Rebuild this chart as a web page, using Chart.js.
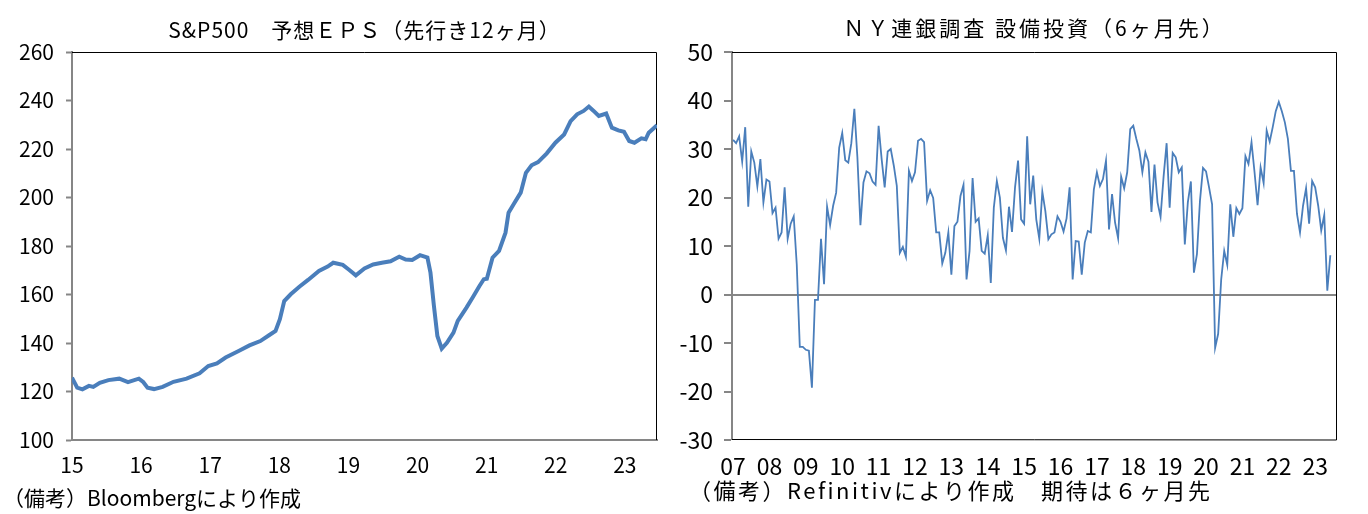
<!DOCTYPE html>
<html lang="ja">
<head>
<meta charset="utf-8">
<title>S&P500 予想EPS / NY連銀調査 設備投資</title>
<script src="https://cdn.jsdelivr.net/npm/chart.js@4.4.1/dist/chart.umd.min.js"></script>
<style>
  html, body { margin: 0; padding: 0; background: #fff; }
  #wrap { position: relative; width: 1368px; height: 514px; overflow: hidden; }
  canvas { position: absolute; top: 0; }
  #epsChart { left: 0; }
  #capexChart { left: 680px; }
</style>
</head>
<body>
<div id="wrap">
  <canvas id="epsChart" width="680" height="514"></canvas>
  <canvas id="capexChart" width="688" height="514"></canvas>
</div>
<script>
// 左：S&P500 予想EPS（先行き12ヶ月）  日付は年の小数表記
const epsDates = [
  2015.000, 2015.075, 2015.151, 2015.245, 2015.308, 2015.402, 2015.527, 2015.684, 2015.810, 2015.967,
  2016.030, 2016.093, 2016.187, 2016.312, 2016.469, 2016.658, 2016.846, 2016.972,
  2017.097, 2017.223, 2017.411, 2017.568, 2017.725, 2017.851, 2017.945,
  2018.008, 2018.071, 2018.165, 2018.290, 2018.416, 2018.573, 2018.699, 2018.780, 2018.918,
  2019.013, 2019.107, 2019.232, 2019.358, 2019.484, 2019.609, 2019.735, 2019.829, 2019.923,
  2020.036, 2020.143, 2020.187, 2020.237, 2020.287, 2020.350, 2020.425, 2020.520, 2020.582,
  2020.708, 2020.802, 2020.896, 2020.959,
  2021.003, 2021.085, 2021.179, 2021.273, 2021.317, 2021.399, 2021.493, 2021.568, 2021.650,
  2021.744, 2021.870, 2021.995,
  2022.121, 2022.215, 2022.309, 2022.403, 2022.479, 2022.548, 2022.623, 2022.730, 2022.812,
  2022.906, 2022.987,
  2023.063, 2023.138, 2023.239, 2023.301, 2023.345, 2023.465
];
const epsValues = [
  125.7, 121.6, 120.9, 122.3, 121.9, 123.6, 124.7, 125.3, 123.9, 125.3,
  123.9, 121.6, 121.0, 121.9, 124.0, 125.3, 127.5, 130.5,
  131.6, 134.0, 136.7, 139.0, 140.8, 143.2, 145.0,
  149.8, 157.3, 160.1, 163.2, 166.0, 169.7, 171.5, 173.1, 172.2,
  170.1, 167.9, 170.7, 172.4, 173.1, 173.7, 175.6, 174.4, 174.2,
  176.2, 175.2, 169.0, 155.3, 142.9, 137.7, 140.1, 144.3, 149.1,
  154.6, 159.0, 163.5, 166.3,
  166.5, 175.2, 178.0, 185.5, 193.7, 197.6, 202.0, 210.2, 213.3,
  214.6, 218.2, 222.6,
  226.0, 231.5, 234.3, 235.7, 237.5, 235.7, 233.6, 234.6, 228.8,
  227.7, 227.1,
  223.3, 222.6, 224.4, 224.0, 226.7, 229.8
];
const epsYearTicks = [2015, 2016, 2017, 2018, 2019, 2020, 2021, 2022, 2023];
const epsYearLabels = ["15", "16", "17", "18", "19", "20", "21", "22", "23"];

// 右：NY連銀調査 設備投資（6ヶ月先）  2007年1月からの月次
const capexStart = 2007;
const capexValues = [
  31.9, 31.2, 32.6, 27.4, 34.5, 18.1, 29.5, 27.2, 22.3, 27.9, 19.0, 23.7,   // 07
  23.3, 16.8, 17.9, 11.5, 12.8, 22.1, 11.5, 14.6, 16.1, 6.2, -10.8, -10.8,  // 08
  -11.4, -11.6, -19.2, -1.1, -1.1, 11.5, 2.1, 18.1, 14.3, 18.3, 21.0, 30.3, // 09
  33.3, 27.7, 27.2, 31.2, 38.3, 28.3, 14.3, 23.1, 25.4, 25.0, 23.3, 22.6,   // 10
  34.8, 27.9, 22.1, 29.5, 30.0, 26.6, 22.4, 8.6, 9.8, 7.8, 25.5, 23.4,      // 11
  25.2, 31.7, 32.1, 31.4, 19.3, 21.5, 19.9, 12.8, 12.8, 6.4, 8.6, 12.8,     // 12
  4.1, 14.1, 15.0, 20.3, 22.6, 3.1, 9.0, 24.0, 15.0, 15.7, 9.0, 8.4,        // 13
  12.2, 2.4, 17.9, 23.4, 20.0, 11.7, 9.1, 18.1, 12.9, 22.1, 27.6, 15.5,     // 14
  14.6, 32.6, 18.6, 24.5, 15.5, 11.5, 21.2, 17.2, 11.4, 12.4, 12.8, 16.1,   // 15
  15.0, 13.0, 15.7, 22.1, 3.1, 11.0, 10.9, 4.1, 10.7, 13.1, 12.8, 21.7,     // 16
  25.2, 22.4, 23.8, 27.6, 13.4, 20.7, 14.8, 11.6, 24.3, 21.9, 25.2, 34.1,   // 17
  34.8, 32.1, 29.7, 25.2, 29.3, 27.4, 17.0, 26.8, 19.0, 16.0, 24.3, 31.2,   // 18
  17.9, 29.2, 28.3, 25.2, 26.2, 10.3, 19.0, 23.3, 4.5, 8.3, 19.3, 26.1,     // 19
  25.4, 22.1, 18.6, -11.0, -8.1, 3.1, 9.0, 6.1, 18.6, 11.9, 17.8, 16.6,     // 20
  17.8, 28.5, 26.9, 31.4, 25.2, 18.4, 26.2, 23.0, 33.8, 31.5, 34.5, 37.8,   // 21
  39.7, 37.8, 35.5, 32.1, 25.5, 25.5, 16.6, 12.8, 18.3, 21.9, 14.6, 23.4,   // 22
  22.1, 18.3, 13.2, 16.4, 0.8, 8.1                                          // 23
];
const capexYearTicks = [2007, 2008, 2009, 2010, 2011, 2012, 2013, 2014, 2015,
  2016, 2017, 2018, 2019, 2020, 2021, 2022, 2023];
const capexYearLabels = ["07", "08", "09", "10", "11", "12", "13", "14", "15",
  "16", "17", "18", "19", "20", "21", "22", "23"];

const LINE_BLUE = "#4a7ebb";
const AXIS_GRAY = "#868686";
const FAMILY = "'Noto Sans CJK JP', sans-serif";

// タイトル・備考・枠線
const textsPlugin = {
  id: "texts",
  beforeDatasetsDraw(chart, args, opts) {
    const ctx = chart.ctx;
    const a = chart.chartArea;
    ctx.save();
    ctx.strokeStyle = "#000";
    ctx.lineWidth = 1;
    ctx.beginPath();
    ctx.moveTo(a.left, a.top + 0.5);
    ctx.lineTo(a.right - 0.5, a.top + 0.5);
    ctx.lineTo(a.right - 0.5, a.bottom);
    if (opts.bottomLine) ctx.lineTo(a.left, a.bottom - 0.5);
    ctx.stroke();
    ctx.restore();
  },
  afterDraw(chart, args, opts) {
    const ctx = chart.ctx;
    const a = chart.chartArea;
    ctx.save();
    ctx.fillStyle = "#000";
    ctx.textBaseline = "middle";

    ctx.font = opts.titleSize + "px " + FAMILY;
    ctx.letterSpacing = opts.titleSpacing + "px";
    ctx.textAlign = "center";
    ctx.fillText(opts.title, (a.left + a.right) / 2, opts.titleY);

    ctx.font = opts.noteSize + "px " + FAMILY;
    ctx.letterSpacing = opts.noteSpacing + "px";
    ctx.textAlign = "left";
    ctx.fillText(opts.note, opts.noteX, opts.noteY);
    ctx.restore();
  }
};

function yearAxis(min, max, ticks, labels, size, showBorder) {
  return {
    type: "linear",
    min: min,
    max: max,
    afterBuildTicks: function (scale) {
      scale.ticks = ticks.map(v => ({ value: v }));
    },
    afterFit: function (scale) {
      scale.height = 514 - 440;
    },
    grid: { display: false, drawTicks: false },
    border: { display: showBorder, color: AXIS_GRAY, width: 2 },
    ticks: {
      autoSkip: false,
      maxRotation: 0,
      padding: 12,
      color: "#000",
      font: { family: FAMILY, size: size },
      callback: (v, i) => labels[i]
    }
  };
}

// 左のグラフ
new Chart(document.getElementById("epsChart"), {
  type: "line",
  data: {
    datasets: [{
      data: epsDates.map((d, i) => ({ x: d, y: epsValues[i] })),
      borderColor: LINE_BLUE,
      borderWidth: 4,
      pointRadius: 0,
      tension: 0
    }]
  },
  options: {
    responsive: false,
    animation: false,
    layout: { padding: { left: 0, right: 23, top: 52, bottom: 0 } },
    plugins: {
      legend: { display: false },
      tooltip: { enabled: false },
      texts: {
        title: "S&P500　予想ＥＰＳ（先行き12ヶ月）",
        titleY: 30,
        titleSize: 21,
        titleSpacing: 1,
        note: "（備考）Bloombergにより作成",
        noteX: 3,
        noteY: 498,
        noteSize: 21,
        noteSpacing: 0,
        bottomLine: false
      }
    },
    scales: {
      x: yearAxis(2015, 2023.465, epsYearTicks, epsYearLabels, 21, true),
      y: {
        min: 100,
        max: 260,
        afterFit: function (scale) { scale.width = 72; },
        grid: {
          drawOnChartArea: false,
          drawTicks: true,
          tickLength: 6,
          tickColor: AXIS_GRAY,
          tickWidth: 2
        },
        border: { color: AXIS_GRAY, width: 2 },
        ticks: {
          stepSize: 20,
          padding: 12,
          color: "#000",
          font: { family: FAMILY, size: 21 }
        }
      }
    }
  },
  plugins: [textsPlugin]
});

// 右のグラフ
new Chart(document.getElementById("capexChart"), {
  type: "line",
  data: {
    datasets: [{
      data: capexValues.map((v, i) => ({ x: capexStart + i / 12, y: v })),
      borderColor: LINE_BLUE,
      borderWidth: 1.8,
      pointRadius: 0,
      tension: 0
    }]
  },
  options: {
    responsive: false,
    animation: false,
    layout: { padding: { left: 0, right: 31, top: 52, bottom: 0 } },
    plugins: {
      legend: { display: false },
      tooltip: { enabled: false },
      texts: {
        title: "ＮＹ連銀調査 設備投資（6ヶ月先）",
        titleY: 28,
        titleSize: 21,
        titleSpacing: 3,
        note: "（備考）Refinitivにより作成　期待は６ヶ月先",
        noteX: 9,
        noteY: 491,
        noteSize: 22,
        noteSpacing: 2.5,
        bottomLine: true
      }
    },
    scales: {
      x: yearAxis(2006.97, 2023.6, capexYearTicks, capexYearLabels, 23, false),
      y: {
        min: -30,
        max: 50,
        afterFit: function (scale) { scale.width = 52; },
        grid: {
          drawOnChartArea: true,
          drawTicks: true,
          tickLength: 8,
          tickColor: AXIS_GRAY,
          tickWidth: 2,
          color: ctx => (ctx.tick && ctx.tick.value === 0 ? AXIS_GRAY : "rgba(0,0,0,0)"),
          lineWidth: ctx => (ctx.tick && ctx.tick.value === 0 ? 2 : 0)
        },
        border: { color: AXIS_GRAY, width: 2 },
        ticks: {
          stepSize: 10,
          padding: 11,
          color: "#000",
          font: { family: FAMILY, size: 23 }
        }
      }
    }
  },
  plugins: [textsPlugin]
});
</script>
</body>
</html>
